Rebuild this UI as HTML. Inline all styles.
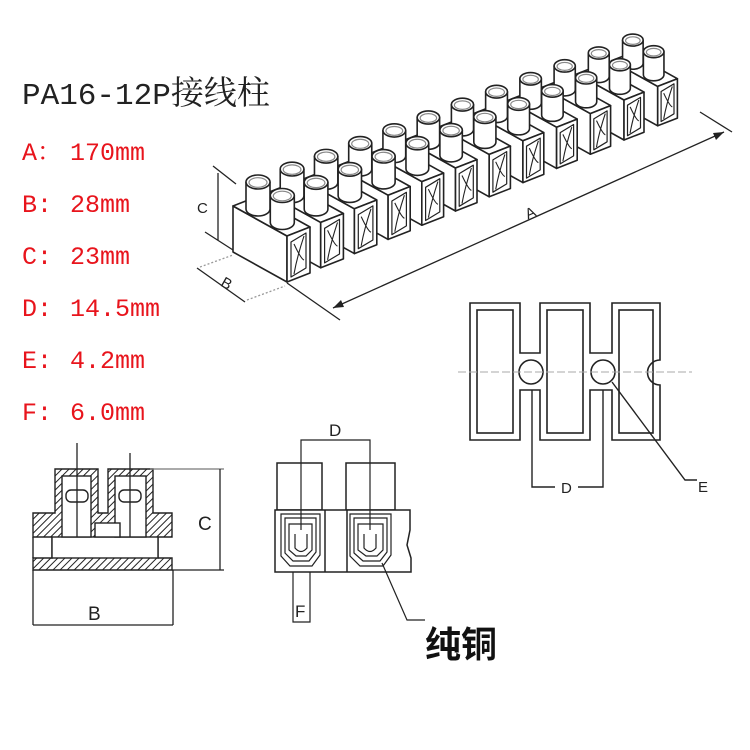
<!DOCTYPE html>
<html><head><meta charset="utf-8">
<style>
html,body{margin:0;padding:0;background:#fff;}
body{width:750px;height:750px;overflow:hidden;position:relative;}
svg{position:absolute;left:0;top:0;}
</style></head>
<body>
<svg id="s" width="750" height="750" viewBox="0 0 750 750" xmlns="http://www.w3.org/2000/svg">
<defs>
<pattern id="h" width="5" height="5" patternUnits="userSpaceOnUse" patternTransform="rotate(45)">
<rect width="5" height="5" fill="#fff"/><line x1="0" y1="0" x2="0" y2="5" stroke="#222" stroke-width="2"/>
</pattern>
</defs>
<text x="22" y="104" font-family="Liberation Mono, Noto Serif CJK SC, serif" font-size="31" fill="#222">PA16-12P<tspan font-family="Noto Serif CJK SC, serif" font-size="33">接线柱</tspan></text>
<g font-family="Liberation Mono, Noto Serif CJK SC, serif" font-size="25" fill="#e8141c">
<text x="22" y="160">A：</text><text x="70" y="160">170mm</text>
<text x="22" y="212">B:</text><text x="70" y="212">28mm</text>
<text x="22" y="264">C:</text><text x="70" y="264">23mm</text>
<text x="22" y="316">D:</text><text x="70" y="316">14.5mm</text>
<text x="22" y="368">E:</text><text x="70" y="368">4.2mm</text>
<text x="22" y="420">F:</text><text x="70" y="420">6.0mm</text>
</g>

<g id="strip" stroke="#222" stroke-width="1.6" fill="#fff" stroke-linejoin="round"></g>

<g stroke="#222" stroke-width="1.3" fill="none">
<line x1="218" y1="173" x2="218" y2="240"/>
<line x1="213" y1="166" x2="236" y2="184"/>
<line x1="205" y1="232" x2="233" y2="250"/>
<line x1="197" y1="268" x2="245" y2="302"/>
<line x1="200" y1="267" x2="233" y2="255" stroke="#999" stroke-dasharray="2 2"/>
<line x1="247" y1="300" x2="285" y2="286" stroke="#999" stroke-dasharray="2 2"/>
<line x1="287" y1="283" x2="340" y2="320"/>
<line x1="333" y1="308" x2="724" y2="132"/>
<line x1="700" y1="112" x2="732" y2="132"/>
</g>
<polygon points="724,132 713,133 716,140" fill="#222"/>
<polygon points="333,308 344,307 341,300" fill="#222"/>
<g font-family="Liberation Sans, sans-serif" font-size="15" fill="#222">
<text x="197" y="213">C</text>
<text x="222" y="289" transform="rotate(30 228 283)">B</text>
<text x="525" y="218" transform="rotate(-24 530 212)">A</text>
</g>

<g stroke="#222" stroke-width="1.6" fill="#fff">
<path d="M470,303 H520 V353 H540 V303 H590 V353 H612 V303 H660 V360 A12,12 0 0 0 660,385 V440 H612 V390 H590 V440 H540 V390 H520 V440 H470 Z"/>
<rect x="477" y="310" width="36" height="123" fill="none"/>
<rect x="547" y="310" width="36" height="123" fill="none"/>
<rect x="619" y="310" width="34" height="123" fill="none"/>
<circle cx="531" cy="372" r="12"/>
<circle cx="603" cy="372" r="12"/>
</g>
<line x1="458" y1="372" x2="692" y2="372" stroke="#aaa" stroke-width="1" stroke-dasharray="8 3"/>
<g stroke="#222" stroke-width="1.4" fill="none">
<polyline points="532,390 532,487 555,487"/>
<polyline points="603,390 603,487 578,487"/>
<polyline points="612,382 685,480 697,480"/>
</g>
<g font-family="Liberation Sans, sans-serif" font-size="15" fill="#222">
<text x="561" y="493">D</text>
<text x="698" y="492">E</text>
</g>

<g stroke="#222" stroke-width="1.4">
<path d="M55,469 H98 V513 H108 V469 H153 V513 H172 V537 H158 V558 H172 V570 H33 V558 H52 V537 H33 V513 H55 Z" fill="url(#h)"/>
<rect x="52" y="537" width="106" height="21" fill="#fff"/>
<rect x="62" y="476" width="29" height="61" fill="#fff"/>
<rect x="115" y="476" width="31" height="61" fill="#fff"/>
<rect x="95" y="523" width="25" height="14" fill="#fff"/>
<rect x="66" y="490" width="22" height="12" rx="5" fill="#fff"/>
<rect x="119" y="490" width="22" height="12" rx="5" fill="#fff"/>
<line x1="33" y1="537" x2="33" y2="558"/>
</g>
<g stroke="#222" stroke-width="1.3" fill="none">
<line x1="77" y1="443" x2="77" y2="537"/>
<line x1="130" y1="453" x2="130" y2="537"/>
<line x1="150" y1="469" x2="224" y2="469" stroke="#777"/>
<line x1="172" y1="570" x2="224" y2="570"/>
<line x1="220" y1="469" x2="220" y2="570"/>
<line x1="33" y1="570" x2="33" y2="625"/>
<line x1="173" y1="570" x2="173" y2="625"/>
<line x1="33" y1="625" x2="173" y2="625"/>
</g>
<g font-family="Liberation Sans, sans-serif" font-size="19" fill="#222">
<text x="198" y="530">C</text>
<text x="88" y="620">B</text>
</g>

<g stroke="#222" stroke-width="1.5" fill="#fff">
<rect x="277" y="463" width="45" height="47"/>
<rect x="346" y="463" width="49" height="47"/>
<path d="M275,510 H410 V530 L407,545 L411,558 V572 H275 Z"/>
<line x1="325" y1="510" x2="325" y2="572"/>
<line x1="347" y1="510" x2="347" y2="572"/>
</g>
<g stroke="#222" stroke-width="1.2" fill="none">
<path d="M281,514 H320 V555 L312,566 H290 L281,556 Z"/>
<path d="M285,518 H316 V552 L309,561 H293 L285,553 Z"/>
<path d="M289,524 H312 V550 L306,556 H296 L289,550 Z"/>
<path d="M295,534 V548 Q301,555 307,548 V534"/>
<path d="M350,514 H391 V555 L383,566 H360 L350,556 Z"/>
<path d="M354,518 H387 V552 L380,561 H363 L354,553 Z"/>
<path d="M358,524 H383 V550 L377,556 H366 L358,550 Z"/>
<path d="M364,534 V548 Q370,555 376,548 V534"/>
<polyline points="301,530 301,440 370,440 370,530"/>
<polyline points="293,572 293,622 310,622 310,572"/>
<polyline points="382,563 407,620 425,620"/>
</g>
<g font-family="Liberation Sans, sans-serif" font-size="17" fill="#222">
<text x="329" y="436">D</text>
<text x="295" y="617">F</text>
</g>
<text x="425" y="657" font-family="Noto Sans CJK SC, sans-serif" font-weight="bold" font-size="36" fill="#111">纯铜</text>
</svg>
<script>
(function(){
var g=document.getElementById('strip');var NS='http://www.w3.org/2000/svg';
function el(t,a){var e=document.createElementNS(NS,t);for(var k in a)e.setAttribute(k,a[k]);g.appendChild(e);return e;}
function pt(p){return p[0].toFixed(1)+','+p[1].toFixed(1);}
function add(a,b){return [a[0]+b[0],a[1]+b[1]];}
function poly(ps,extra){var a={points:ps.map(pt).join(' ')};for(var k in extra)a[k]=extra[k];return el('polygon',a);}
function cyl(c,h,rx,ry){
 var top=[c[0],c[1]-h];
 el('path',{d:'M'+(c[0]-rx)+','+top[1]+' V'+c[1]+' A'+rx+','+ry+' 0 0 0 '+(c[0]+rx)+','+c[1]+' V'+top[1]+' Z'});
 el('ellipse',{cx:top[0],cy:top[1],rx:rx,ry:ry});
 el('ellipse',{cx:top[0],cy:top[1]+0.5,rx:rx-3,ry:ry-2.2,stroke:'#888','stroke-width':1.2});
}
var P0=[287,282],s=[33.7,-14.2];
for(var i=11;i>=0;i--){
 var k=1-0.013*i;
 var u=[23*k,-9*k],d=[-54*k,-30*k],H=46*k;
 var P=[P0[0]+s[0]*i,P0[1]+s[1]*i];
 var FTL=add(P,[0,-H]),FBR=add(P,u),FTR=add(FBR,[0,-H]);
 var BTL=add(FTL,d),BTR=add(FTR,d),BBL=add(P,d);
 poly([P,FTL,BTL,BBL]);
 poly([FTL,FTR,BTR,BTL]);
 var mid=add(FTL,[u[0]/2,u[1]/2]);
 cyl(add(mid,[d[0]*0.75,d[1]*0.75]),27*k,12*k,7*k);
 cyl(add(mid,[d[0]*0.3,d[1]*0.3]),27*k,12*k,7*k);
 poly([P,FBR,FTR,FTL]);
 var a=add(P,[4*k,-5*k]),b=add(FBR,[-4*k,-5*k]),c=add(FTR,[-4*k,6*k]),e=add(FTL,[4*k,6*k]);
 poly([a,b,c,e],{'stroke-width':1.2});
 el('path',{d:'M'+pt(add(e,[3*k,2*k]))+' Q'+pt(add(a,[10*k,-18*k]))+' '+pt(add(b,[-2*k,-8*k]))+' M'+pt(add(c,[-2*k,3*k]))+' Q'+pt(add(a,[6*k,-20*k]))+' '+pt(add(a,[3*k,-3*k])),fill:'none','stroke-width':1.1});
}
})();
</script>
</body></html>
